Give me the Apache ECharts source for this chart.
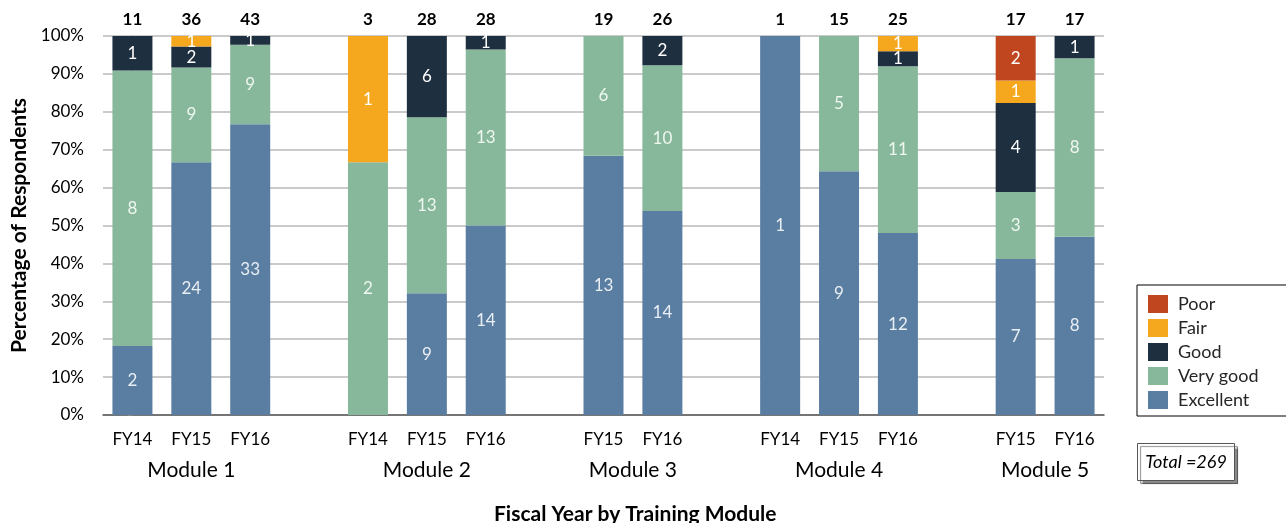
<!DOCTYPE html>
<html>
<head>
<meta charset="utf-8">
<script src="https://cdn.jsdelivr.net/npm/echarts@6/dist/echarts.min.js"></script>
<style>
  html, body { margin: 0; padding: 0; background: #fff; }
  #report { width: 1286px; height: 523px; }
</style>
</head>
<body>
<div id="report"></div>
<script>
// categories ('' = spacer between modules)
var categories = ['FY14', 'FY15', 'FY16', '', 'FY14', 'FY15', 'FY16', '', 'FY15', 'FY16', '', 'FY14', 'FY15', 'FY16', '', 'FY15', 'FY16'];
var moduleOf = ['Module 1', 'Module 1', 'Module 1', null, 'Module 2', 'Module 2', 'Module 2', null, 'Module 3', 'Module 3', null, 'Module 4', 'Module 4', 'Module 4', null, 'Module 5', 'Module 5'];
var totals = ['11', '36', '43', '', '3', '28', '28', '', '19', '26', '', '1', '15', '25', '', '17', '17'];

// respondent counts per rating
var excellent = [2, 24, 33, null, null, 9, 14, null, 13, 14, null, 1, 9, 12, null, 7, 8];
var veryGood  = [8, 9, 9, null, 2, 13, 13, null, 6, 10, null, null, 5, 11, null, 3, 8];
var good      = [1, 2, 1, null, null, 6, 1, null, null, 2, null, null, null, 1, null, 4, 1];
var fair      = [null, 1, null, null, 1, null, null, null, null, null, null, null, null, 1, null, 1, null];
var poor      = [null, null, null, null, null, null, null, null, null, null, null, null, null, null, null, 2, null];

var yTicks = [0, 10, 20, 30, 40, 50, 60, 70, 80, 90, 100];

var FONT = 'Lato';
var myChart = echarts.init(document.getElementById('report'));

var ratings = [
  { name: 'Excellent', counts: excellent, color: '#5a7ea1', text: '#e9eef4' },
  { name: 'Very good', counts: veryGood, color: '#88b89c', text: '#eef7f0' },
  { name: 'Good', counts: good, color: '#1e2f40', text: '#ffffff' },
  { name: 'Fair', counts: fair, color: '#f5a81d', text: '#ffffff' },
  { name: 'Poor', counts: poor, color: '#c0461f', text: '#ffffff' }
];

// sum per bar, so each bar is shown as 100%
var sums = categories.map(function(c, i) {
  var s = 0;
  ratings.forEach(function(r) { s += r.counts[i] || 0; });
  return s;
});

// centre of each module group, in category index units
var moduleCenters = [];
moduleOf.forEach(function(m, i) {
  if (!m) return;
  var found = moduleCenters.filter(function(x) { return x.name === m; })[0];
  if (!found) { found = { name: m, idx: [] }; moduleCenters.push(found); }
  found.idx.push(i);
});
moduleCenters.forEach(function(m) {
  m.center = m.idx.reduce(function(a, b) { return a + b; }, 0) / m.idx.length;
});

var series = ratings.map(function(r) {
  return {
    name: r.name,
    type: 'bar',
    stack: 'all',
    barWidth: 40,
    xAxisIndex: 0,
    itemStyle: { color: r.color },
    label: {
      show: true,
      position: 'inside',
      color: r.text,
      fontFamily: FONT,
      fontSize: 17,
      formatter: function(p) { return r.counts[p.dataIndex]; }
    },
    data: r.counts.map(function(v, i) {
      return v == null ? null : v / sums[i] * 100;
    })
  };
});

var option = {
  animation: false,
  textStyle: { fontFamily: FONT },
  grid: { left: 103, right: 182, top: 36, bottom: 108, containLabel: false },
  title: {
    text: 'Fiscal Year by Training Module',
    left: 489,
    top: 499,
    textStyle: { fontFamily: FONT, fontSize: 21, fontWeight: 'bold', color: '#000' }
  },
  legend: {
    data: ['Poor', 'Fair', 'Good', 'Very good', 'Excellent'],
    orient: 'vertical',
    left: 1137,
    top: 285,
    itemWidth: 20,
    itemHeight: 18,
    itemGap: 6,
    icon: 'rect',
    padding: [10, 30, 7, 11],
    borderColor: '#000',
    borderWidth: 1,
    backgroundColor: '#fff',
    textStyle: { fontFamily: FONT, fontSize: 18, color: '#262626', padding: [0, 0, 0, 5] }
  },
  xAxis: [
    {
      type: 'category',
      data: categories,
      position: 'bottom',
      axisLine: { lineStyle: { color: '#595959', width: 1.5 } },
      axisTick: { show: false },
      axisLabel: { color: '#000', fontSize: 17, margin: 16, interval: 0 }
    },
    {
      type: 'category',
      data: categories,
      position: 'top',
      axisLine: { show: false },
      axisTick: { show: false },
      axisLabel: {
        color: '#000', fontSize: 17, fontWeight: 'bold', margin: 8, interval: 0,
        formatter: function(v, i) { return totals[i]; }
      }
    },
    {
      type: 'value',
      min: -0.5,
      max: 16.5,
      interval: 0.5,
      position: 'bottom',
      offset: 37,
      axisLine: { show: false },
      axisTick: { show: false },
      splitLine: { show: false },
      axisLabel: {
        color: '#000', fontSize: 21, margin: 8,
        showMinLabel: true, showMaxLabel: true,
        formatter: function(v) {
          var m = moduleCenters.filter(function(x) { return Math.abs(x.center - v) < 1e-6; })[0];
          return m ? m.name : '';
        }
      }
    }
  ],
  yAxis: {
    type: 'value',
    min: yTicks[0],
    max: yTicks[yTicks.length - 1],
    interval: 10,
    name: 'Percentage of Respondents',
    nameLocation: 'middle',
    nameGap: 69,
    nameTextStyle: { fontFamily: FONT, fontSize: 21, fontWeight: 'bold', color: '#000' },
    axisLine: { show: true, lineStyle: { color: '#868686' } },
    axisTick: { show: true, length: 5, lineStyle: { color: '#868686' } },
    axisLabel: { color: '#000', fontSize: 17, margin: 19, formatter: '{value}%' },
    splitLine: { lineStyle: { color: '#b8b8b8', width: 1.5 } }
  },
  graphic: [
    {
      type: 'group',
      left: 1137,
      top: 443,
      children: [
        {
          type: 'rect',
          shape: { x: 0, y: 0, width: 97, height: 37 },
          style: { fill: '#fff', stroke: '#555', lineWidth: 1, shadowColor: 'rgba(0,0,0,0.45)', shadowOffsetX: 3, shadowOffsetY: 3, shadowBlur: 1 }
        },
        {
          type: 'text',
          x: 48.5,
          y: 18.5,
          style: { text: 'Total =269', fontFamily: FONT, fontSize: 18, fontStyle: 'italic', fill: '#000', align: 'center', verticalAlign: 'middle' }
        }
      ]
    }
  ],
  series: series
};

myChart.setOption(option);
</script>
</body>
</html>
